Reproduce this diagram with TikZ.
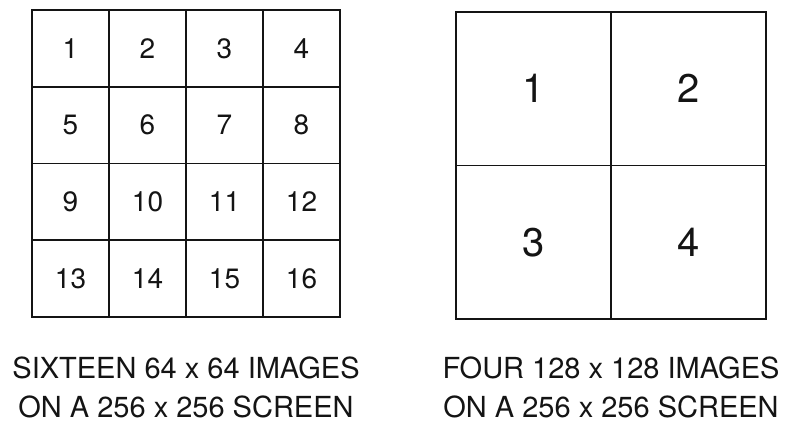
\documentclass[tikz,border=0pt]{standalone}
\usepackage{fontspec}
\setmainfont{TeX Gyre Heros}
\usepackage{tikz}
\usetikzlibrary{positioning}
\definecolor{ink}{HTML}{141414}
\tikzset{
  smallcell/.style={
    draw=ink,
    line width=1.9pt,
    minimum width=77pt,
    minimum height=76.75pt,
    inner sep=0pt,
    text=ink,
    font=\fontsize{28}{28}\selectfont
  },
  bigcell/.style={
    draw=ink,
    line width=1.9pt,
    minimum width=155pt,
    minimum height=153.5pt,
    inner sep=0pt,
    text=ink,
    font=\fontsize{40}{40}\selectfont
  },
  captiontext/.style={
    align=center,
    inner sep=0pt,
    anchor=north,
    text=ink,
    font=\fontsize{29}{39}\selectfont
  }
}

\begin{document}
\begin{tikzpicture}[x=1pt,y=-1pt]
  \useasboundingbox (0,0) rectangle (787,428);
  % sixteen small images
  \foreach \row in {0,...,3} {
    \foreach \col in {0,...,3} {
      \pgfmathtruncatemacro{\num}{4*\row+\col+1}
      \node[smallcell] (s\num) at ({32+77*(\col+0.5)},{10+76.75*(\row+0.5)}) {\num};
    }
  }
  % four big images
  \foreach \row in {0,1} {
    \foreach \col in {0,1} {
      \pgfmathtruncatemacro{\num}{2*\row+\col+1}
      \node[bigcell] (b\num) at ({456+155*(\col+0.5)},{12+153.5*(\row+0.5)}) {\num};
    }
  }
  \node[captiontext] (leftcap) at (186,357) {SIXTEEN 64 x 64 IMAGES\\ON A 256 x 256 SCREEN};
  \node[captiontext] (rightcap) at (611,357) {FOUR 128 x 128 IMAGES\\ON A 256 x 256 SCREEN};
\end{tikzpicture}
\end{document}
